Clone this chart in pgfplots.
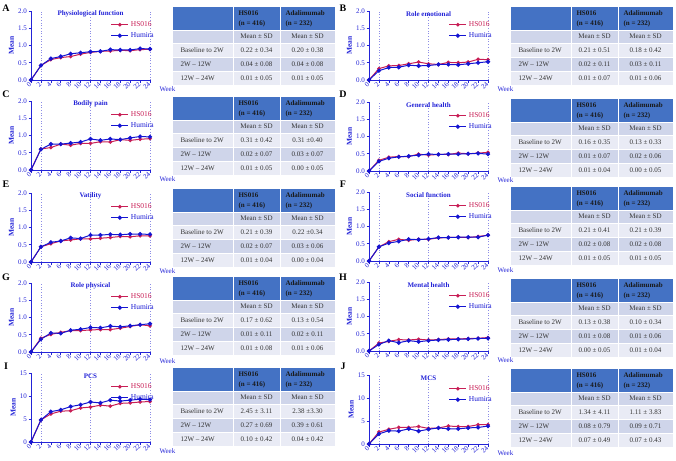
\documentclass[border=0pt]{standalone}
\usepackage{pgfplots}
\pgfplotsset{compat=1.18}
\usepackage{fontspec}
\setmainfont{Liberation Serif}

\definecolor{axblue}{RGB}{35,35,215}
\definecolor{hscol}{RGB}{200,30,85}
\definecolor{hucol}{RGB}{20,20,210}
\definecolor{vline}{RGB}{140,140,230}
\definecolor{thead}{RGB}{68,114,196}
\definecolor{tdark}{RGB}{207,213,234}
\definecolor{tlight}{RGB}{233,235,245}

\newcommand{\fs}[1]{\fontsize{#1}{#1}\selectfont}

\pgfplotsset{panel/.style={
  scale only axis, width=119pt, height=69pt,
  xmin=0, xmax=24, ymin=0,
  axis lines=left, axis line style={axblue, line width=0.8pt, -},
  xtick={0,2,...,24}, tick style={axblue, line width=0.6pt},
  tick align=outside, major tick length=2.5pt,
  ticklabel style={text=axblue},
  x tick label style={font=\fs{7}, rotate=45, anchor=east, inner sep=0.8pt},
  y tick label style={font=\fs{7}, inner sep=1.5pt},
  ylabel={Mean}, ylabel style={font=\bfseries\fs{7.5}, text=axblue, yshift=-1pt},
  /pgf/number format/assume math mode=true,
  legend style={draw=none, fill=none, at={(1.05,0.88)}, anchor=north east,
    font=\fs{7.5}, inner sep=0pt, row sep=0.5pt},
  legend cell align=left,
  clip=false,
}}
\pgfplotsset{small/.style={ymax=2, ytick={0,0.5,...,2},
  yticklabel style={/pgf/number format/.cd, fixed, fixed zerofill, precision=1}}}
\pgfplotsset{big/.style={ymax=15, ytick={0,5,10,15}}}

% #1 x, #2 bottom, #3 title, #4 ymax, #5 style, #6 HS016, #7 Humira
\newcommand{\chart}[7]{%
  \begin{axis}[panel, at={(#1pt,-#2pt)}, anchor=south west, #5]
    \draw[vline, dotted, line width=0.7pt] (axis cs:2,0) -- (axis cs:2,#4);
    \draw[vline, dotted, line width=0.7pt] (axis cs:12,0) -- (axis cs:12,#4);
    \draw[vline, dotted, line width=0.7pt] (axis cs:24,0) -- (axis cs:24,#4);
    \addplot[hscol, line width=1pt, mark=*, mark size=1.3pt] coordinates {#6};
    \addlegendentry{\textcolor{hscol}{HS016}}
    \addplot[hucol, line width=1pt, mark=*, mark size=1.6pt] coordinates {#7};
    \addlegendentry{\textcolor{hucol}{Humira}}
    \node[font=\bfseries\fs{7}, text=axblue] at (rel axis cs:0.5,1) [yshift=-3pt] {#3};
    \node[font=\fs{7}, text=axblue, anchor=west] at (rel axis cs:1,0) [xshift=6pt, yshift=-9pt] {Week};
  \end{axis}}

% #1 x, #2 top, #3-#5 HS016, #6-#8 Adalimumab
\newcommand{\tbl}[8]{%
  \begin{scope}[shift={(#1pt,-#2pt)}]
    \fill[thead] (0,0) rectangle (162pt,-23pt);
    \fill[tdark] (0,-23pt) rectangle (162pt,-36pt);
    \fill[tlight] (0,-36pt) rectangle (162pt,-50pt);
    \fill[tdark] (0,-50pt) rectangle (162pt,-64pt);
    \fill[tlight] (0,-64pt) rectangle (162pt,-78pt);
    \draw[white, line width=0.8pt] (60pt,0) -- (60pt,-78pt) (107pt,0) -- (107pt,-78pt);
    \draw[white, line width=0.6pt] (0,-23pt) -- (162pt,-23pt) (0,-36pt) -- (162pt,-36pt)
      (0,-50pt) -- (162pt,-50pt) (0,-64pt) -- (162pt,-64pt);
    \node[anchor=west, align=left, font=\bfseries\fontsize{7}{10}\selectfont, text=black!90]
      at (62pt,-11.5pt) {HS016\\(n = 416)};
    \node[anchor=west, align=left, font=\bfseries\fontsize{7}{10}\selectfont, text=black!90]
      at (109pt,-11.5pt) {Adalimumab\\(n = 232)};
    \begin{scope}[every node/.style={font=\fs{7}, text=black!80}]
      \node at (83.5pt,-29.5pt) {Mean ± SD};
      \node at (134.5pt,-29.5pt) {Mean ± SD};
      \node[anchor=west] at (4pt,-43pt) {Baseline to 2W};
      \node[anchor=west] at (4pt,-57pt) {2W – 12W};
      \node[anchor=west] at (4pt,-71pt) {12W – 24W};
      \node at (83.5pt,-43pt) {#3};
      \node at (83.5pt,-57pt) {#4};
      \node at (83.5pt,-71pt) {#5};
      \node at (134.5pt,-43pt) {#6};
      \node at (134.5pt,-57pt) {#7};
      \node at (134.5pt,-71pt) {#8};
    \end{scope}
  \end{scope}}

\begin{document}
\begin{tikzpicture}
\useasboundingbox (0,0) rectangle (676pt,-460pt);

\begin{scope}[every node/.style={font=\bfseries\fs{10}}]
  \node at (6pt,-8pt) {A};   \node at (343pt,-8pt) {B};
  \node at (6pt,-94pt) {C};  \node at (343pt,-94pt) {D};
  \node at (6pt,-184pt) {E}; \node at (343pt,-184pt) {F};
  \node at (6pt,-277pt) {G}; \node at (343pt,-277pt) {H};
  \node at (6pt,-366pt) {I}; \node at (343pt,-366pt) {J};
\end{scope}

% A
\chart{31}{80}{Physiological function}{2}{small}
  {(0,0)(2,0.42)(4,0.59)(6,0.65)(8,0.68)(10,0.75)(12,0.80)(14,0.83)(16,0.84)(18,0.86)(20,0.85)(22,0.88)(24,0.89)}
  {(0,0)(2,0.42)(4,0.62)(6,0.68)(8,0.76)(10,0.79)(12,0.82)(14,0.83)(16,0.88)(18,0.87)(20,0.87)(22,0.91)(24,0.90)}
\tbl{173}{7}{0.22 ± 0.34}{0.04 ± 0.08}{0.01 ± 0.05}{0.20 ± 0.38}{0.04 ± 0.08}{0.01 ± 0.05}

% B
\chart{369}{80}{Role emotional}{2}{small}
  {(0,0)(2,0.33)(4,0.41)(6,0.42)(8,0.47)(10,0.52)(12,0.47)(14,0.45)(16,0.51)(18,0.50)(20,0.52)(22,0.60)(24,0.59)}
  {(0,0)(2,0.27)(4,0.36)(6,0.37)(8,0.43)(10,0.41)(12,0.42)(14,0.45)(16,0.45)(18,0.44)(20,0.47)(22,0.50)(24,0.53)}
\tbl{511}{7}{0.21 ± 0.51}{0.02 ± 0.11}{0.01 ± 0.07}{0.18 ± 0.42}{0.03 ± 0.11}{0.01 ± 0.06}

% C
\chart{31}{170}{Bodily pain}{2}{small}
  {(0,0)(2,0.61)(4,0.65)(6,0.75)(8,0.72)(10,0.77)(12,0.77)(14,0.82)(16,0.81)(18,0.88)(20,0.86)(22,0.89)(24,0.91)}
  {(0,0)(2,0.60)(4,0.75)(6,0.75)(8,0.78)(10,0.81)(12,0.90)(14,0.86)(16,0.90)(18,0.88)(20,0.93)(22,0.97)(24,0.96)}
\tbl{173}{97}{0.31 ± 0.42}{0.02 ± 0.07}{0.01 ± 0.05}{0.31 ±0.40}{0.03 ± 0.07}{0.00 ± 0.05}

% D
\chart{369}{171}{General health}{2}{small}
  {(0,0)(2,0.31)(4,0.40)(6,0.42)(8,0.42)(10,0.49)(12,0.46)(14,0.48)(16,0.48)(18,0.52)(20,0.50)(22,0.52)(24,0.54)}
  {(0,0)(2,0.28)(4,0.37)(6,0.41)(8,0.43)(10,0.46)(12,0.49)(14,0.48)(16,0.49)(18,0.49)(20,0.50)(22,0.51)(24,0.49)}
\tbl{511}{99}{0.16 ± 0.35}{0.01 ± 0.07}{0.01 ± 0.04}{0.13 ± 0.33}{0.02 ± 0.06}{0.00 ± 0.05}

% E
\chart{31}{262}{Vatility}{2}{small}
  {(0,0)(2,0.44)(4,0.53)(6,0.61)(8,0.64)(10,0.67)(12,0.67)(14,0.69)(16,0.71)(18,0.74)(20,0.73)(22,0.76)(24,0.76)}
  {(0,0)(2,0.44)(4,0.57)(6,0.61)(8,0.70)(10,0.68)(12,0.78)(14,0.78)(16,0.80)(18,0.79)(20,0.81)(22,0.81)(24,0.80)}
\tbl{173}{189}{0.21 ± 0.39}{0.02 ± 0.07}{0.01 ± 0.04}{0.22 ±0.34}{0.03 ± 0.06}{0.00 ± 0.04}

% F
\chart{369}{261}{Social function}{2}{small}
  {(0,0)(2,0.41)(4,0.56)(6,0.63)(8,0.60)(10,0.63)(12,0.63)(14,0.67)(16,0.68)(18,0.69)(20,0.68)(22,0.71)(24,0.75)}
  {(0,0)(2,0.41)(4,0.52)(6,0.57)(8,0.63)(10,0.62)(12,0.64)(14,0.68)(16,0.68)(18,0.69)(20,0.69)(22,0.69)(24,0.75)}
\tbl{511}{187}{0.21 ± 0.41}{0.02 ± 0.08}{0.01 ± 0.05}{0.21 ± 0.39}{0.02 ± 0.08}{0.01 ± 0.05}

% G
\chart{31}{352}{Role physical}{2}{small}
  {(0,0)(2,0.40)(4,0.51)(6,0.57)(8,0.62)(10,0.62)(12,0.64)(14,0.65)(16,0.65)(18,0.69)(20,0.74)(22,0.79)(24,0.76)}
  {(0,0)(2,0.37)(4,0.55)(6,0.54)(8,0.63)(10,0.66)(12,0.71)(14,0.70)(16,0.75)(18,0.73)(20,0.76)(22,0.79)(24,0.82)}
\tbl{173}{277}{0.17 ± 0.62}{0.01 ± 0.11}{0.01 ± 0.08}{0.13 ± 0.54}{0.02 ± 0.11}{0.01 ± 0.06}

% H
\chart{369}{351}{Mental health}{2}{small}
  {(0,0)(2,0.23)(4,0.28)(6,0.33)(8,0.32)(10,0.34)(12,0.32)(14,0.33)(16,0.35)(18,0.35)(20,0.36)(22,0.37)(24,0.39)}
  {(0,0)(2,0.19)(4,0.30)(6,0.24)(8,0.30)(10,0.27)(12,0.30)(14,0.32)(16,0.33)(18,0.34)(20,0.35)(22,0.36)(24,0.37)}
\tbl{511}{279}{0.13 ± 0.38}{0.01 ± 0.08}{0.00 ± 0.05}{0.10 ± 0.34}{0.01 ± 0.06}{0.01 ± 0.04}

% I
\chart{31}{442}{PCS}{15}{big}
  {(0,0)(2,4.8)(4,6.1)(6,6.7)(8,6.8)(10,7.4)(12,7.6)(14,8.0)(16,7.8)(18,8.4)(20,8.5)(22,8.7)(24,8.8)}
  {(0,0)(2,4.8)(4,6.6)(6,7.0)(8,7.7)(10,8.1)(12,8.7)(14,8.5)(16,9.1)(18,8.9)(20,9.1)(22,9.3)(24,9.2)}
\tbl{173}{368}{2.45 ± 3.11}{0.27 ± 0.69}{0.10 ± 0.42}{2.38 ±3.30}{0.39 ± 0.61}{0.04 ± 0.42}

% J
\chart{369}{444}{MCS}{15}{big}
  {(0,0)(2,2.6)(4,3.2)(6,3.6)(8,3.6)(10,3.8)(12,3.4)(14,3.5)(16,3.9)(18,3.8)(20,3.8)(22,4.2)(24,4.2)}
  {(0,0)(2,2.2)(4,2.9)(6,2.8)(8,3.3)(10,2.8)(12,3.2)(14,3.5)(16,3.3)(18,3.3)(20,3.5)(22,3.6)(24,3.9)}
\tbl{511}{369}{1.34 ± 4.11}{0.08 ± 0.79}{0.07 ± 0.49}{1.11 ± 3.83}{0.09 ± 0.71}{0.07 ± 0.43}

\end{tikzpicture}
\end{document}
